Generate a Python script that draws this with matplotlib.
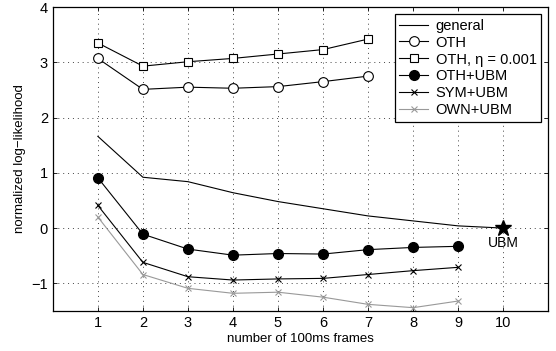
import numpy as np
import matplotlib
matplotlib.use('Agg')
import matplotlib.pyplot as plt

plt.rcParams['font.family'] = ['Liberation Sans', 'DejaVu Sans']
plt.rcParams['font.size'] = 9

# data
frames = [1, 2, 3, 4, 5, 6, 7, 8, 9, 10]
general = [1.66, 0.92, 0.84, 0.64, 0.48, 0.35, 0.22, 0.13, 0.04, 0.0]
frames7 = [1, 2, 3, 4, 5, 6, 7]
oth = [3.07, 2.51, 2.55, 2.53, 2.56, 2.65, 2.75]
oth_eta = [3.35, 2.93, 3.01, 3.07, 3.15, 3.23, 3.42]
frames9 = [1, 2, 3, 4, 5, 6, 7, 8, 9]
oth_ubm = [0.91, -0.11, -0.38, -0.49, -0.46, -0.47, -0.39, -0.35, -0.33]
sym_ubm = [0.41, -0.62, -0.88, -0.94, -0.92, -0.91, -0.84, -0.77, -0.71]
own_ubm = [0.20, -0.84, -1.09, -1.18, -1.16, -1.25, -1.38, -1.44, -1.32]
ubm_x, ubm_y = 10, 0.0

fig = plt.figure(figsize=(5.56, 3.51), dpi=100)
ax = fig.add_axes([0.095, 0.114, 0.891, 0.866])

lw = 0.8
ax.plot(frames, general, '-', color='k', lw=lw, label='general')
ax.plot(frames7, oth, '-o', color='k', lw=lw, mfc='white', mec='k', ms=7, mew=0.8, label='OTH')
ax.plot(frames7, oth_eta, '-s', color='k', lw=lw, mfc='white', mec='k', ms=6, mew=0.8,
        label='OTH, \u03b7 = 0.001')
ax.plot(frames9, oth_ubm, '-o', color='k', lw=lw, mfc='k', mec='k', ms=7, label='OTH+UBM')
ax.plot(frames9, sym_ubm, '-x', color='k', lw=lw, ms=5, mew=0.8, label='SYM+UBM')
ax.plot(frames9, own_ubm, '-x', color='#999999', lw=lw, ms=5, mew=0.8, label='OWN+UBM')
ax.plot([ubm_x], [ubm_y], '*', color='k', ms=12, zorder=5)
ax.text(ubm_x, ubm_y - 0.15, 'UBM', ha='center', va='top', fontsize=10)

ax.set_xlim(0, 11)
ax.set_ylim(-1.5, 4)
ax.set_xticks(range(1, 11))
ax.set_yticks([-1, 0, 1, 2, 3, 4])
ax.set_yticklabels(['\u22121', '0', '1', '2', '3', '4'])
ax.grid(True, linestyle=(0, (1, 4)), color='#444444', lw=0.7)
ax.tick_params(direction='in', length=3, width=0.6, labelsize=10.5, top=True, right=True)
for s in ax.spines.values():
    s.set_linewidth(0.9)
ax.set_xlabel('number of 100ms frames', fontsize=9.5, labelpad=2)
ax.set_ylabel('normalized log\u2212likelihood', fontsize=9.5, labelpad=4)

leg = ax.legend(loc='upper right', fontsize=10.5, fancybox=False, framealpha=1,
                edgecolor='k', handlelength=2.0, borderpad=0.3, labelspacing=0.2,
                handletextpad=0.5, borderaxespad=0.5)
leg.get_frame().set_linewidth(0.9)

fig.savefig('out.png', dpi=100)
